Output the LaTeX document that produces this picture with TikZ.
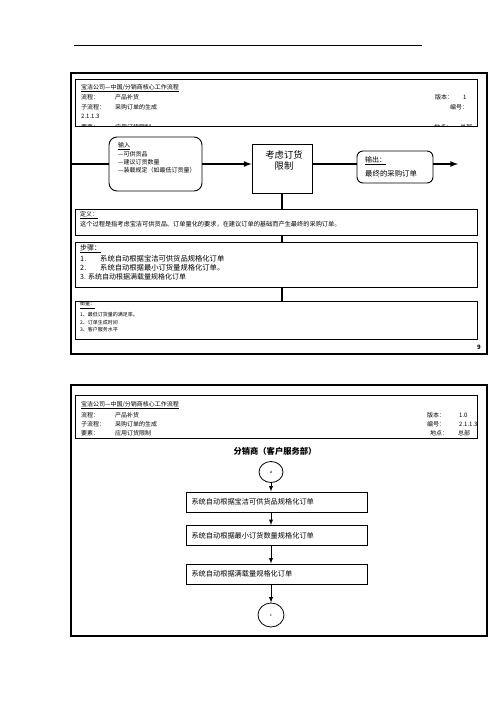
\documentclass[tikz,border=0pt]{standalone}
\usepackage{fontspec}
\setmainfont{Noto Sans CJK SC}
\usetikzlibrary{arrows,positioning,shapes.geometric}

\begin{document}
\begin{tikzpicture}[x=1pt,y=-1pt,
  txt/.style={inner sep=0,anchor=west,font=\fontsize{6}{6}\selectfont},
  box/.style={draw,line width=.9pt,fill=white,inner sep=0},
  flow/.style={line width=1.6pt},
  link/.style={line width=.9pt,-latex}]
\useasboundingbox (0,0) rectangle (496,702);
\draw[line width=1pt] (74,45) -- (422,45);%页眉线
% 第一页
\draw[line width=1.2pt] (71,73) rectangle (487,354);%外框
\draw[line width=1pt] (75,79) rectangle (477,126);%表头
\node[txt] (title1) at (81,88) {\underline{宝洁公司—中国/分销商核心工作流程}};
\foreach \y/\k/\v/\n in {97/流程：/产品补货/1, 107/子流程：/采购订单的生成/2}
  {
   \node[txt] (k\n) at (81,\y) {\k};
   \node[txt] (v\n) at (115,\y) {\v};
  }
\node[txt] (ver1) at (435,97) {版本：};
\node[txt] (vernum1) at (463,97) {1};
\node[txt] (no1) at (450,107) {编号：};
\node[txt] (nonum1) at (81,116) {2.1.1.3};
\begin{scope}
\clip (75,79) rectangle (477,125.3);%被截断的一行
\node[txt] (k3) at (81,127.6) {要素：};
\node[txt] (v3) at (115,127.6) {应用订货限制};
\node[txt] (site1) at (434,127.6) {地点：};
\node[txt] (sitev1) at (460,127.6) {总部};
\end{scope}
% 输入・过程・输出
\node[box,rounded corners=8pt,minimum width=93pt,minimum height=54pt] (in) at (155.5,164) {};
\node[txt] (inT) at (118,146) {\underline{输入}};
\node[txt] (in1) at (118,154) {—可供货品};
\node[txt] (in2) at (118,162) {—建议订货数量};
\node[txt] (in3) at (118,170.7) {—装载规定（如最低订货量）};
\node[box,minimum width=60pt,minimum height=49pt] (proc) at (282,168.5) {};
\node[inner sep=0,align=center,font=\fontsize{9.3}{11}\selectfont] (procT) at (284,160.5) {考虑订货\\限制};
\node[box,rounded corners=6pt,minimum width=76pt,minimum height=32pt] (out) at (395,167) {};
\node[txt,font=\fontsize{7}{7}\selectfont] (outT) at (365,160.7) {\underline{输出：}};
\node[txt,font=\fontsize{7.4}{7.4}\selectfont] (out1) at (365,173.3) {最终的采购订单};
\coordinate (src) at (71,164);
\coordinate (snk) at (458,164);
\draw[flow] (src) -- (src -| in.west);
\draw[flow,-latex] (src -| in.east) -- (src -| proc.west);
\draw[flow] (src -| proc.east) -- (src -| out.west);
\draw[flow,-latex] (src -| out.east) -- (snk);
% 定义・步骤・衡量
\node[box,minimum width=402pt,minimum height=26pt] (def) at (276,222) {};
\node[txt] (defT) at (80,215) {\underline{定义：}};
\node[txt,font=\fontsize{6.2}{6.2}\selectfont] (def1) at (80,224) {这个过程是指考虑宝洁可供货品、订单量化的要求，在建议订单的基础而产生最终的采购订单。};
\node[box,minimum width=402pt,minimum height=45pt] (steps) at (276,264.5) {};
\node[txt,font=\fontsize{7}{7}\selectfont] (stepsT) at (80,249) {\underline{步骤：}};
\foreach \y/\i/\s in {259/1/系统自动根据宝洁可供货品规格化订单, 268/2/系统自动根据最小订货量规格化订单。}
  {
   \node[txt,font=\fontsize{7.3}{7.3}\selectfont] (sn\i) at (80,\y) {\i.};
   \node[txt,font=\fontsize{7.3}{7.3}\selectfont] (st\i) at (100,\y) {\s};
  }
\node[txt,font=\fontsize{7}{7}\selectfont] (st3) at (80,277) {3. 系统自动根据满载量规格化订单};
\node[box,minimum width=402pt,minimum height=38pt] (meas) at (276,320) {};
\node[txt,font=\fontsize{5}{5}\selectfont] (measT) at (80,305) {\underline{衡量：}};
\foreach \y/\i/\s in {315/1/最低订货量的满足率。, 322.3/2/订单生成时间, 330/3/客户服务水平}
  \node[txt,font=\fontsize{5}{5}\selectfont] (m\i) at (80,\y) {\i、\s};
\draw[flow] (proc.south) -- (proc.south |- def.north);
\draw[flow] (def.south -| proc) -- (steps.north -| proc);
\draw[flow] (steps.south -| proc) -- (meas.north -| proc);
\node[inner sep=0,font=\bfseries\fontsize{6}{6}\selectfont] (pg) at (479,347) {9};%页码
% 第二页
\draw[line width=1.2pt] (71,385) rectangle (487,636);%外框
\draw[line width=1pt] (75,395) rectangle (477,438);%表头
\node[txt] (title2) at (81,405) {\underline{宝洁公司—中国/分销商核心工作流程}};
\foreach \y/\k/\v/\n in {415/流程：/产品补货/4, 424/子流程：/采购订单的生成/5, 433/要素：/应用订货限制/6}
  {
   \node[txt] (k\n) at (81,\y) {\k};
   \node[txt] (v\n) at (115,\y) {\v};
  }
\foreach \y/\k/\v/\n in {415/版本：/1.0/4, 424/编号：/2.1.1.3/5}
  {
   \node[txt] (rk\n) at (427,\y) {\k};
   \node[txt] (rv\n) at (459,\y) {\v};
  }
\node[txt] (rk6) at (430,433) {地点：};
\node[txt] (rv6) at (458,433) {总部};
\node[inner sep=0,font=\bfseries\fontsize{8.3}{8.3}\selectfont] (dept) at (275,451) {分销商（客户服务部）};
\node[draw,ellipse,line width=.8pt,minimum width=24pt,minimum height=21pt,inner sep=0,font=\fontsize{4}{4}\selectfont] (a) at (271,472) {a};
\node[box,minimum width=181pt,minimum height=20pt,text width=170pt,align=left,font=\fontsize{7.2}{7.2}\selectfont] (b1) at (276.5,502) {系统自动根据宝洁可供货品规格化订单};
\node[box,minimum width=181pt,minimum height=20pt,text width=170pt,align=left,font=\fontsize{7.2}{7.2}\selectfont] (b2) at (276.5,535.5) {系统自动根据最小订货数量规格化订单};
\node[box,minimum width=181pt,minimum height=20pt,text width=170pt,align=left,font=\fontsize{7.2}{7.2}\selectfont] (b3) at (276.5,574) {系统自动根据满载量规格化订单};
\node[draw,ellipse,line width=.8pt,minimum width=26pt,minimum height=24pt,inner sep=0,font=\fontsize{4}{4}\selectfont] (c) at (271,615) {c};
\draw[link] (a) -- (a |- b1.north);
\draw[link] (b1.south -| a) -- (b2.north -| a);
\draw[link] (b2.south -| a) -- (b3.north -| a);
\draw[link] (b3.south -| a) -- (c);
\end{tikzpicture}
\end{document}
